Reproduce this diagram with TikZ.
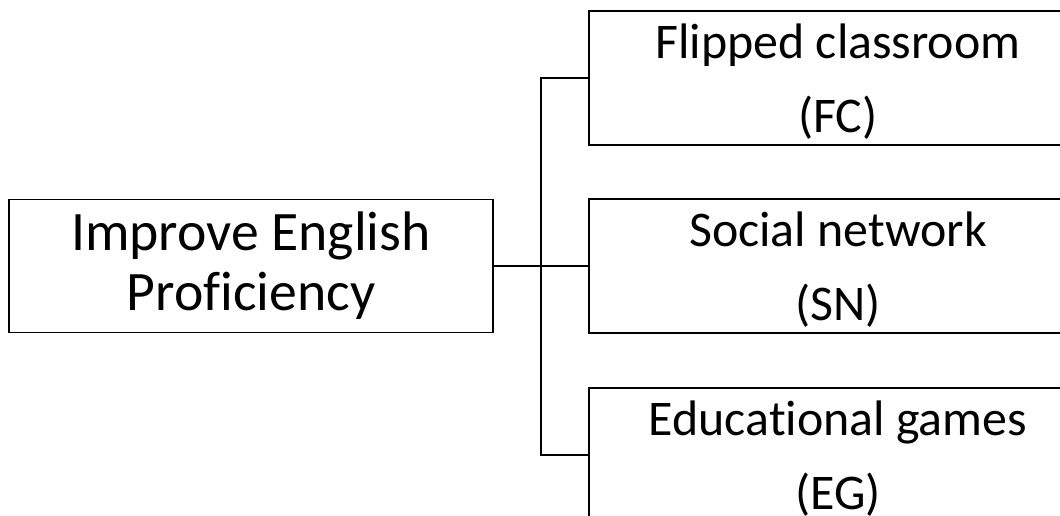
\documentclass[tikz,border=0pt]{standalone}
\usepackage{fontspec}
\setmainfont{Carlito}[Ligatures={NoCommon}]
\usetikzlibrary{positioning}

\begin{document}
\begin{tikzpicture}[x=0.02cm, y=-0.02cm,
    box/.style={draw, line width=1.1pt, align=center, inner sep=0pt},
    goalbox/.style={box, minimum width=9.68cm, minimum height=2.66cm,
        font=\fontsize{31.7}{34}\selectfont},
    toolbox/.style={box, minimum width=9.96cm, minimum height=2.68cm,
        text depth=0pt, font=\fontsize{28.4}{42}\selectfont}]
    \useasboundingbox (0, 0) rectangle (1060, 515);
    \clip (0, 0) rectangle (1060, 515);
    \node[goalbox] (goal) at (251, 266) {Improve English\\Proficiency};
    \node[toolbox] (fc) at (838, 78) {Flipped classroom\\(FC)};
    \node[toolbox] (sn) at (838, 266) {Social network\\(SN)};
    \node[toolbox] (eg) at (838, 455) {Educational games\\(EG)};
    \coordinate (bus) at (541, 266);
    \draw[line width=1.1pt] (goal.east) -- (sn.west);
    \draw[line width=1.1pt] (fc.west) -| (bus) |- (eg.west);
\end{tikzpicture}
\end{document}
